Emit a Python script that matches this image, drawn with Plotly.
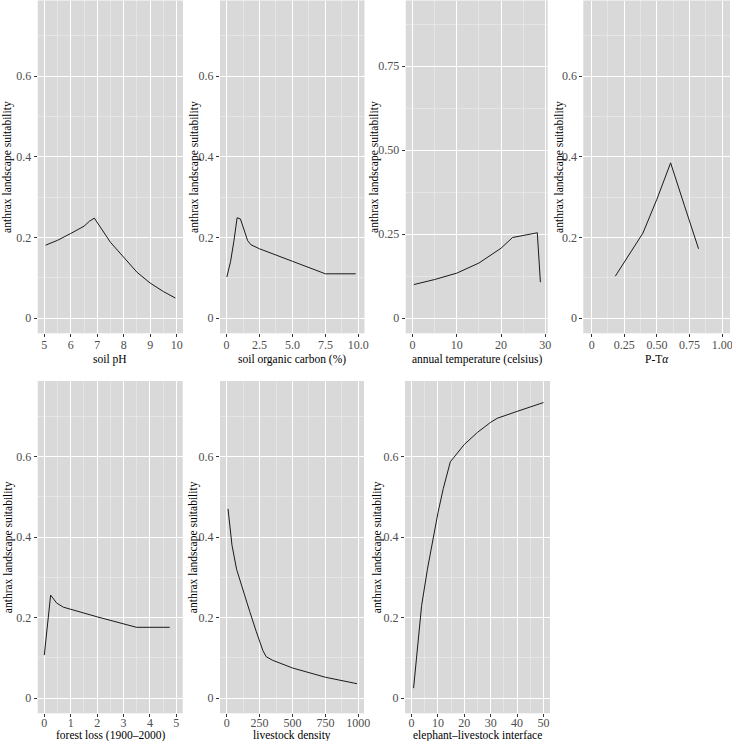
import plotly.graph_objects as go

W, H = 732, 741

# ---------------- data ----------------
ph_x = [5.05, 5.5, 6.0, 6.5, 6.7, 6.89, 7.5, 8.0, 8.5, 9.0, 9.5, 9.95]
ph_y = [0.181, 0.193, 0.210, 0.228, 0.240, 0.248, 0.188, 0.150, 0.114, 0.087, 0.066, 0.050]

soc_x = [0.02, 0.3, 0.55, 0.8, 1.05, 1.3, 1.6, 1.85, 2.5, 5.0, 7.5, 9.8]
soc_y = [0.102, 0.140, 0.190, 0.249, 0.246, 0.220, 0.192, 0.182, 0.172, 0.141, 0.110, 0.110]

temp_x = [0.3, 5.0, 10.0, 15.0, 20.0, 22.6, 28.2, 28.9]
temp_y = [0.100, 0.115, 0.134, 0.164, 0.208, 0.240, 0.254, 0.107]

pta_x = [0.181, 0.29, 0.393, 0.5, 0.605, 0.71, 0.819]
pta_y = [0.104, 0.160, 0.211, 0.295, 0.385, 0.280, 0.172]

forest_x = [0.0, 0.24, 0.47, 0.72, 2.0, 3.49, 4.75]
forest_y = [0.107, 0.256, 0.236, 0.226, 0.202, 0.176, 0.176]

live_x = [10, 40, 75, 125, 175, 225, 275, 300, 350, 500, 750, 990]
live_y = [0.470, 0.380, 0.320, 0.265, 0.215, 0.165, 0.118, 0.103, 0.094, 0.075, 0.052, 0.036]

ele_x = [0.76, 3.8, 6.0, 8.0, 10.0, 12.0, 14.7, 20.0, 25.0, 30.0, 32.5, 40.0, 50.0]
ele_y = [0.025, 0.230, 0.320, 0.395, 0.460, 0.520, 0.587, 0.630, 0.660, 0.685, 0.695, 0.712, 0.734]

# tick values / labels
y_ticks = [0, 0.2, 0.4, 0.6]
y_ticklabels = ["0", "0.2", "0.4", "0.6"]
y_minor = [0.1, 0.3, 0.5, 0.7]
y_ticks_temp = [0, 0.25, 0.5, 0.75]
y_ticklabels_temp = ["0", "0.25", "0.50", "0.75"]
y_minor_temp = [0.125, 0.375, 0.625, 0.875]

ph_ticks = [5, 6, 7, 8, 9, 10]
ph_labels = ["5", "6", "7", "8", "9", "10"]
soc_ticks = [0, 2.5, 5, 7.5, 10]
soc_labels = ["0", "2.5", "5.0", "7.5", "10.0"]
temp_ticks = [0, 10, 20, 30]
temp_labels = ["0", "10", "20", "30"]
pta_ticks = [0, 0.25, 0.5, 0.75, 1.0]
pta_labels = ["0", "0.25", "0.50", "0.75", "1.00"]
forest_ticks = [0, 1, 2, 3, 4, 5]
forest_labels = ["0", "1", "2", "3", "4", "5"]
live_ticks = [0, 250, 500, 750, 1000]
live_labels = ["0", "250", "500", "750", "1000"]
ele_ticks = [0, 10, 20, 30, 40, 50]
ele_labels = ["0", "10", "20", "30", "40", "50"]

y_title = "anthrax landscape suitability"

# ---------------- layout of panels (pixels) ----------------
panels = [
    dict(x=ph_x, y=ph_y, xt=ph_ticks, xl=ph_labels, xm=[5.5, 6.5, 7.5, 8.5, 9.5],
         xr=[4.75, 10.24], yr=[-0.0375, 0.7875], yt=y_ticks, yl=y_ticklabels, ym=y_minor,
         px=(37.7, 183), py=(0.5, 333.3), title="soil pH", tx=110, ty=359, yx=8, so=-3),
    dict(x=soc_x, y=soc_y, xt=soc_ticks, xl=soc_labels, xm=[1.25, 3.75, 6.25, 8.75],
         xr=[-0.5, 10.47], yr=[-0.0375, 0.7875], yt=y_ticks, yl=y_ticklabels, ym=y_minor,
         px=(220, 364.5), py=(0.5, 333.3), title="soil organic carbon (%)", tx=292, ty=359, yx=195, so=-3),
    dict(x=temp_x, y=temp_y, xt=temp_ticks, xl=temp_labels, xm=[5, 15, 25],
         xr=[-1.55, 30.55], yr=[-0.045, 0.945], yt=y_ticks_temp, yl=y_ticklabels_temp, ym=y_minor_temp,
         px=(405.7, 547.7), py=(0.5, 333.3), title="annual temperature (celsius)", tx=476.7, ty=359, yx=375, so=-3),
    dict(x=pta_x, y=pta_y, xt=pta_ticks, xl=pta_labels, xm=[0.125, 0.375, 0.625, 0.875],
         xr=[-0.064, 1.06], yr=[-0.0375, 0.7875], yt=y_ticks, yl=y_ticklabels, ym=y_minor,
         px=(583.3, 730), py=(0.5, 333.3), title="P-T<i>α</i>", tx=657, ty=359, yx=560, so=-3),
    dict(x=forest_x, y=forest_y, xt=forest_ticks, xl=forest_labels, xm=[0.5, 1.5, 2.5, 3.5, 4.5],
         xr=[-0.25, 5.24], yr=[-0.0375, 0.7875], yt=y_ticks, yl=y_ticklabels, ym=y_minor,
         px=(37.7, 182.7), py=(381, 713.3), title="forest loss (1900–2000)", tx=110, ty=735.5, yx=8, so=-5),
    dict(x=live_x, y=live_y, xt=live_ticks, xl=live_labels, xm=[125, 375, 625, 875],
         xr=[-51, 1043], yr=[-0.0375, 0.7875], yt=y_ticks, yl=y_ticklabels, ym=y_minor,
         px=(220, 364), py=(381, 713.3), title="livestock density", tx=292, ty=735.5, yx=193, so=-5),
    dict(x=ele_x, y=ele_y, xt=ele_ticks, xl=ele_labels, xm=[5, 15, 25, 35, 45],
         xr=[-2.5, 52.5], yr=[-0.0375, 0.7875], yt=y_ticks, yl=y_ticklabels, ym=y_minor,
         px=(405, 550), py=(381, 713.3), title="elephant–livestock interface", tx=477.5, ty=735.5, yx=377, so=-5),
]

FONT = "Liberation Serif"
BG = "#D9D9D9"
TICK_FONT = dict(family=FONT, size=12, color="#4D4D4D")
TITLE_FONT = dict(family=FONT, size=11.5, color="#000000")

fig = go.Figure()
annotations = []
layout_axes = {}

for i, p in enumerate(panels, start=1):
    xa = "x" if i == 1 else f"x{i}"
    ya = "y" if i == 1 else f"y{i}"
    fig.add_trace(go.Scatter(x=p["x"], y=p["y"], mode="lines",
                             line=dict(color="#1A1A1A", width=1),
                             xaxis=xa, yaxis=ya, showlegend=False, hoverinfo="skip"))
    xd = [p["px"][0] / W, p["px"][1] / W]
    yd = [1 - p["py"][1] / H, 1 - p["py"][0] / H]
    common = dict(showgrid=True, gridcolor="#FFFFFF", gridwidth=1, zeroline=False,
                  showline=False, ticks="outside", ticklen=3, tickwidth=1, tickcolor="#333333",
                  tickfont=TICK_FONT, tickmode="array", fixedrange=True, automargin=False,
                  ticklabeloverflow="allow")
    layout_axes["xaxis" if i == 1 else f"xaxis{i}"] = dict(
        common, domain=xd, range=p["xr"], tickvals=p["xt"], ticktext=p["xl"],
        anchor=ya, ticklabelstandoff=p["so"],
        minor=dict(tickmode="array", tickvals=p["xm"], showgrid=True,
                   gridcolor="#F1F1F1", gridwidth=0.5, ticks=""))
    layout_axes["yaxis" if i == 1 else f"yaxis{i}"] = dict(
        common, domain=yd, range=p["yr"], tickvals=p["yt"], ticktext=p["yl"],
        anchor=xa, minor=dict(tickmode="array", tickvals=p["ym"], showgrid=True,
                              gridcolor="#F1F1F1", gridwidth=0.5, ticks=""))
    annotations.append(dict(text=p["title"], x=p["tx"] / W, y=1 - p["ty"] / H,
                            xref="paper", yref="paper", xanchor="center", yanchor="middle",
                            showarrow=False, font=TITLE_FONT))
    annotations.append(dict(text=y_title, x=p["yx"] / W,
                            y=1 - (p["py"][0] + p["py"][1]) / 2 / H,
                            xref="paper", yref="paper", xanchor="center", yanchor="middle",
                            textangle=-90, showarrow=False, font=TITLE_FONT))

fig.update_layout(
    width=W, height=H, margin=dict(l=0, r=0, t=0, b=0, autoexpand=False),
    paper_bgcolor="#FFFFFF", plot_bgcolor=BG,
    annotations=annotations, showlegend=False,
    **layout_axes,
)

fig.write_html("out.html", config={"displayModeBar": False, "staticPlot": True},
               post_script="document.body.style.margin='0';document.body.style.padding='0';")
